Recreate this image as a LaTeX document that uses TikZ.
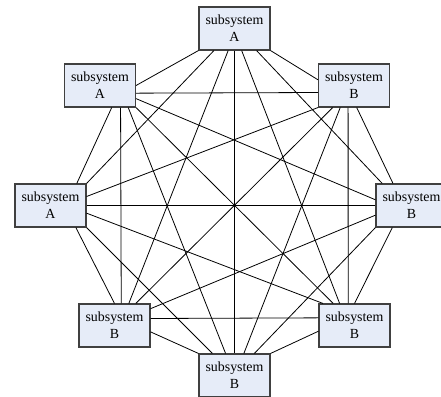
\documentclass[tikz,border=0pt]{standalone}
\usepackage{fontspec}
\setmainfont{Liberation Serif}
\definecolor{boxfill}{RGB}{230,236,248}
\definecolor{boxline}{RGB}{64,64,64}
\tikzset{
  subsys/.style={draw=boxline, line width=1.1pt, fill=boxfill,
    minimum width=71pt, minimum height=43pt, inner sep=0pt,
    align=center, font=\fontsize{13.9}{16.7}\selectfont},
  link/.style={line width=0.8pt, black}
}
\begin{document}
\begin{tikzpicture}[x=1pt,y=-1pt]
      \useasboundingbox (0,0) rectangle (441,396);
      \draw
        (234.5,28.5) node[subsys] (t){subsystem\\A}
        (100,85.5) node[subsys] (ul){subsystem\\A}
        (354,85.5) node[subsys] (ur){subsystem\\B}
        (50.5,205.5) node[subsys] (l){subsystem\\A}
        (411.5,205.5) node[subsys] (r){subsystem\\B}
        (114.5,325.5) node[subsys] (ll){subsystem\\B}
        (354.5,325.5) node[subsys] (lr){subsystem\\B}
        (234.5,375.5) node[subsys] (b){subsystem\\B};
      \begin{scope}[link]
        \draw (t.south west) to (ul.east);
        \draw (t.south east) to (ur.171);
        \draw (t.227) to (l.north east);
        \draw (t.315) to (r.143);
        \draw (t.254) to (ll.57);
        \draw (t.288.5) to (lr.124);
        \draw (t.south) to (b.north);
        \draw (ul.348.5) to (ur.191.5);
        \draw (ul.298.6) to (l.40);
        \draw (ul.340) to (r.171);
        \draw (ul.313.9) to (ll.73.9);
        \draw (ul.south east) to (lr.134.6);
        \draw (ul.322.8) to (b.112);
        \draw (ur.south west) to (l.14);
        \draw (ur.277) to (r.130);
        \draw (ur.226.1) to (ll.46.4);
        \draw (ur.255.2) to (lr.106.1);
        \draw (ur.238.3) to (b.67.7);
        \draw (l.east) to (r.west);
        \draw (l.319.9) to (ll.north);
        \draw (l.348.4) to (lr.145);
        \draw (l.south east) to (b.135.4);
        \draw (r.195) to (ll.25.8);
        \draw (r.229.7) to (lr.north);
        \draw (r.south west) to (b.48.8);
        \draw (ll.11.5) to (lr.168.5);
        \draw (ll.350.1) to (b.north west);
        \draw (lr.189.9) to (b.north east);
      \end{scope}
    \end{tikzpicture}
\end{document}
